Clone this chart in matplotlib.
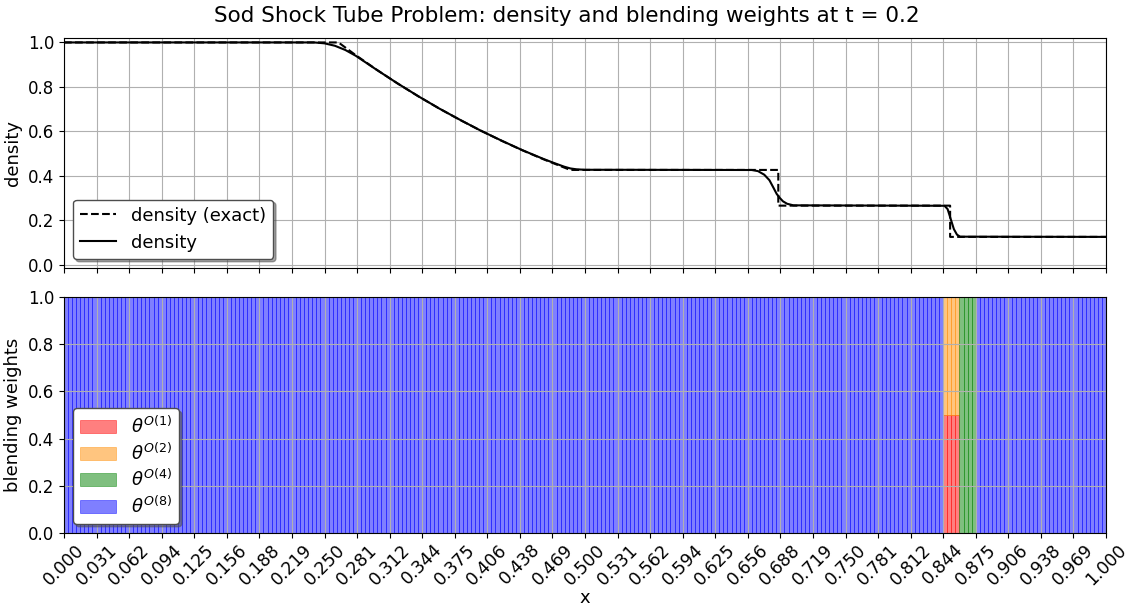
import numpy as np
import matplotlib
matplotlib.use("Agg")
import matplotlib.pyplot as plt

# exact solution
x_exact = [0.0, 0.2634, 0.28, 0.30, 0.32, 0.34, 0.36, 0.38, 0.40, 0.42, 0.44,
           0.46, 0.48, 0.4859, 0.6855, 0.6855, 0.8504, 0.8504, 1.0]
rho_exact = [1.0, 1.0, 0.9427, 0.8774, 0.8158, 0.7577, 0.7030, 0.6514, 0.6030,
             0.5574, 0.5146, 0.4745, 0.4370, 0.4263, 0.4263, 0.2656, 0.2656,
             0.125, 0.125]

# numerical density
x_num = [0.0, 0.240, 0.250, 0.260, 0.270, 0.280, 0.300, 0.320, 0.340, 0.360,
         0.380, 0.400, 0.420, 0.440, 0.460, 0.470, 0.480, 0.486, 0.492, 0.500,
         0.520, 0.660, 0.666, 0.672, 0.677, 0.681, 0.684, 0.687, 0.690, 0.694,
         0.700, 0.845, 0.848, 0.851, 0.854, 0.857, 0.860, 1.0]
rho_num = [1.0, 1.0, 0.996, 0.985, 0.966, 0.940, 0.877, 0.816, 0.758, 0.703,
           0.652, 0.603, 0.558, 0.515, 0.476, 0.458, 0.441, 0.433, 0.429, 0.427,
           0.427, 0.426, 0.421, 0.405, 0.380, 0.345, 0.318, 0.300, 0.285, 0.274,
           0.267, 0.265, 0.250, 0.205, 0.160, 0.135, 0.126, 0.125]

# blending weights per cell, as run lengths (cell count, value)
n_cells = 256
theta1_runs = [(216, 0.0), (4, 0.5), (36, 0.0)]
theta2_runs = [(216, 0.0), (4, 0.5), (36, 0.0)]
theta4_runs = [(220, 0.0), (4, 1.0), (32, 0.0)]
theta8_runs = [(216, 1.0), (8, 0.0), (32, 1.0)]


def expand(runs):
    out = []
    for n, v in runs:
        out += [v] * n
    return np.array(out)


theta1 = expand(theta1_runs)
theta2 = expand(theta2_runs)
theta4 = expand(theta4_runs)
theta8 = expand(theta8_runs)

plt.rcParams["font.size"] = 13
plt.rcParams["xtick.labelsize"] = 12.5
plt.rcParams["ytick.labelsize"] = 12

fig = plt.figure(figsize=(11.34, 6.08), dpi=100)
W, H = 1134, 608
ax1 = fig.add_axes([64 / W, 1 - 268 / H, 1042 / W, 230 / H])
ax2 = fig.add_axes([64 / W, 1 - 533 / H, 1042 / W, 236 / H], sharex=ax1)

fig.suptitle("Sod Shock Tube Problem: density and blending weights at t = 0.2",
             fontsize=15.5, y=0.99)

ax1.plot(x_exact, rho_exact, "k--", lw=1.5, label="density (exact)")
ax1.plot(x_num, rho_num, "k-", lw=1.5, label="density")
ax1.set_ylabel("density")
ax1.set_ylim(-0.015, 1.02)
ax1.set_yticks([0.0, 0.2, 0.4, 0.6, 0.8, 1.0])
ax1.grid(True)
ax1.legend(loc="lower left", shadow=True, framealpha=1, edgecolor="0.3")
plt.setp(ax1.get_xticklabels(), visible=False)

edges = np.arange(n_cells) / n_cells
w = 1.0 / n_cells
bottom = np.zeros(n_cells)
series = [(theta1, "red", r"$\theta^{O(1)}$"),
          (theta2, "darkorange", r"$\theta^{O(2)}$"),
          (theta4, "green", r"$\theta^{O(4)}$"),
          (theta8, "blue", r"$\theta^{O(8)}$")]
for vals, col, lab in series:
    ax2.bar(edges, vals, width=w, bottom=bottom, align="edge", color=col,
            alpha=0.5, edgecolor=col, linewidth=0.6, label=lab)
    bottom = bottom + vals

ax2.set_ylim(0, 1)
ax2.set_xlim(0, 1)
ax2.set_yticks([0.0, 0.2, 0.4, 0.6, 0.8, 1.0])
ax2.set_ylabel("blending weights")
ax2.set_xlabel("x", labelpad=0)
ticks = np.linspace(0, 1, 33)
ax2.set_xticks(ticks)
ax2.set_xticklabels(["%.3f" % t for t in ticks], rotation=45)
ax2.tick_params(axis="x", pad=2)
ax2.grid(True)
ax2.legend(loc="lower left", shadow=True, framealpha=1, edgecolor="0.3",
           labelspacing=0.3)

fig.savefig("out.png", dpi=100)
